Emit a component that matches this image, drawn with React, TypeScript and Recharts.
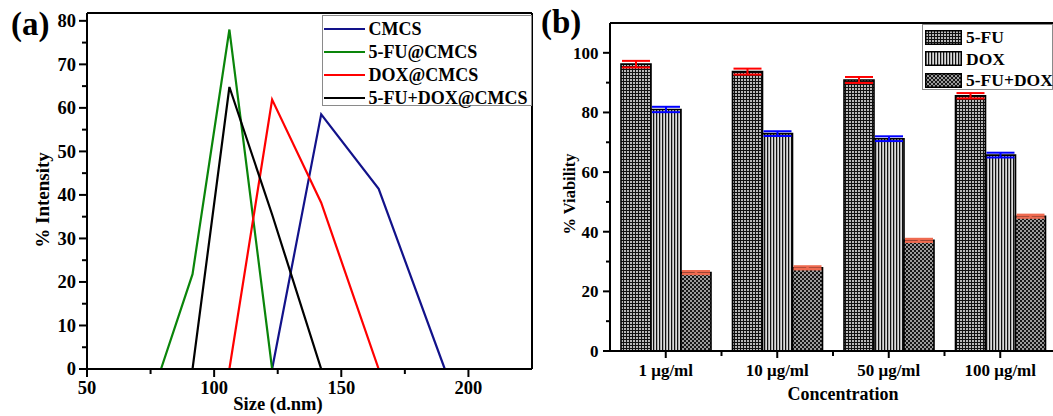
import React from 'react';
import { LineChart, Line, XAxis, YAxis, ReferenceLine, BarChart, Bar, ErrorBar } from 'recharts';

const FONT = "'Liberation Serif', 'Times New Roman', Times, serif";

// ---------- Panel (a): DLS size distribution ----------
const cmcsSize = [106.0, 122.8, 142.1, 164.7, 190.7];
const cmcsInt = [0, 0, 58.5, 41.4, 0];
const fuSize = [79.1, 91.5, 106.0, 122.8, 142.1];
const fuInt = [0, 21.8, 78.0, 0, 0];
const doxSize = [91.5, 106.0, 122.8, 142.1, 164.7];
const doxInt = [0, 0, 61.9, 38.2, 0];
const comboSize = [91.5, 106.0, 122.8, 142.1];
const comboInt = [0, 64.8, 35.5, 0];

const sizeTicks = [50, 75, 100, 125, 150, 175, 200];
const intensityTicks = [0, 5, 10, 15, 20, 25, 30, 35, 40, 45, 50, 55, 60, 65, 70, 75, 80];

const lineNames = ['CMCS', '5-FU@CMCS', 'DOX@CMCS', '5-FU+DOX@CMCS'];
const lineColors = ['#12128a', '#0a850a', '#ff0000', '#000000'];

// ---------- Panel (b): cell viability ----------
const concLabels = ['1 μg/ml', '10 μg/ml', '50 μg/ml', '100 μg/ml'];
const fuViab = [96.2, 93.7, 90.9, 85.6];
const fuErr = [1.1, 1.0, 1.0, 0.9];
const doxViab = [81.0, 72.9, 71.2, 65.7];
const doxErr = [0.9, 0.8, 0.8, 0.8];
const comboViab = [26.3, 27.9, 37.1, 45.2];
const comboErr = [0.45, 0.45, 0.45, 0.45];
const viabTicks = [0, 10, 20, 30, 40, 50, 60, 70, 80, 90, 100];

const barNames = ['5-FU', 'DOX', '5-FU+DOX'];
const barPatterns = ['pFU', 'pDOX', 'pCombo'];

const toXY = (xs: number[], ys: number[]) => xs.map((x, i) => ({ x, y: ys[i] }));
const cmcsData = toXY(cmcsSize, cmcsInt);
const fuData = toXY(fuSize, fuInt);
const doxData = toXY(doxSize, doxInt);
const comboData = toXY(comboSize, comboInt);
const lineSets = [cmcsData, fuData, doxData, comboData];

const barData = concLabels.map((conc, i) => ({
  conc,
  fu: fuViab[i],
  fuErr: fuErr[i],
  dox: doxViab[i],
  doxErr: doxErr[i],
  combo: comboViab[i],
  comboErr: comboErr[i],
}));

// layout constants (chart-local coordinates)
const A_W = 540, A_H = 416;
const A_LEFT = 87, A_TOP = 13, A_RIGHT = 8, A_XH = 47;
const A_AXIS_Y = A_H - A_XH;

const B_LEFTPOS = 530;
const B_W = 540, B_H = 416;
const B_LEFT = 80, B_TOP = 23, B_RIGHT = 14, B_XH = 65;
const B_AXIS_Y = B_H - B_XH;
const B_BAND = (B_W - B_LEFT - B_RIGHT) / concLabels.length;

const txt = { fontFamily: FONT, fontWeight: 700 as const, fill: '#000' };

const LeftYTick = (p: any) => {
  const v = p.payload.value;
  const major = v % 10 === 0;
  const y = p.y;
  return (
    <g>
      <line x1={A_LEFT - (major ? 8 : 5)} x2={A_LEFT} y1={y} y2={y} stroke="#000" strokeWidth={2} />
      {major && (
        <text x={A_LEFT - 11} y={y} dy="0.34em" textAnchor="end" fontSize={18.5} {...txt}>
          {v}
        </text>
      )}
    </g>
  );
};

const LeftXTick = (p: any) => {
  const v = p.payload.value;
  const major = v % 50 === 0;
  const x = p.x;
  return (
    <g>
      <line x1={x} x2={x} y1={A_AXIS_Y} y2={A_AXIS_Y + (major ? 8 : 5)} stroke="#000" strokeWidth={2} />
      {major && (
        <text x={x} y={A_AXIS_Y + 12} dy="0.72em" textAnchor="middle" fontSize={18.5} {...txt}>
          {v}
        </text>
      )}
    </g>
  );
};

const RightYTick = (p: any) => {
  const v = p.payload.value;
  const major = v % 20 === 0;
  const y = p.y;
  return (
    <g>
      <line x1={B_LEFT - (major ? 7 : 4)} x2={B_LEFT} y1={y} y2={y} stroke="#000" strokeWidth={2} />
      {major && (
        <text x={B_LEFT - 11.5} y={y} dy="0.34em" textAnchor="end" fontSize={17} {...txt}>
          {v}
        </text>
      )}
    </g>
  );
};

const RightXTick = (p: any) => {
  const x = p.x;
  const idx = p.index;
  return (
    <g>
      <line x1={x} x2={x} y1={B_AXIS_Y} y2={B_AXIS_Y + 7} stroke="#000" strokeWidth={2} />
      {idx < concLabels.length - 1 && (
        <line x1={x + B_BAND / 2} x2={x + B_BAND / 2} y1={B_AXIS_Y} y2={B_AXIS_Y + 5} stroke="#000" strokeWidth={2} />
      )}
      <text x={x} y={370} dy="0.34em" textAnchor="middle" fontSize={17} {...txt}>
        {p.payload.value}
      </text>
    </g>
  );
};

const Patterns = () => (
  <defs>
    <pattern id="pFU" width="3" height="3" patternUnits="userSpaceOnUse">
      <rect width="3" height="3" fill="#111" />
      <rect x="1" y="1" width="2" height="2" fill="#b8b8b8" />
    </pattern>
    <pattern id="pDOX" width="3" height="3" patternUnits="userSpaceOnUse">
      <rect width="3" height="3" fill="#dcdcdc" />
      <rect x="0" y="0" width="1" height="3" fill="#111" />
      <rect x="1" y="0" width="0.6" height="3" fill="#888" />
    </pattern>
    <pattern id="pCombo" width="4" height="4" patternUnits="userSpaceOnUse">
      <rect width="4" height="4" fill="#151515" />
      <rect x="0" y="0" width="2" height="2" fill="#9a9a9a" />
      <rect x="2" y="2" width="2" height="2" fill="#9a9a9a" />
    </pattern>
  </defs>
);

const LeftLegend = () => (
  <div
    style={{
      position: 'absolute',
      left: 321.5,
      top: 15,
      width: 210,
      height: 91,
      border: '1px solid #8a8a8a',
      background: '#fff',
      boxSizing: 'border-box',
    }}
  >
    {lineNames.map((n, i) => (
      <div key={n} style={{ position: 'absolute', left: 1, top: 13 + i * 23.1 - 10, height: 20, display: 'flex', alignItems: 'center' }}>
        <div style={{ width: 41, height: 2.4, background: lineColors[i] }} />
        <span style={{ marginLeft: 4, fontFamily: FONT, fontWeight: 700, fontSize: 18, lineHeight: '20px', whiteSpace: 'nowrap' }}>{n}</span>
      </div>
    ))}
  </div>
);

const RightLegend = () => (
  <div
    style={{
      position: 'absolute',
      left: 922,
      top: 24,
      width: 131,
      height: 66,
      border: '1px solid #8a8a8a',
      background: '#fff',
      boxSizing: 'border-box',
    }}
  >
    {barNames.map((n, i) => (
      <div key={n} style={{ position: 'absolute', left: 2, top: 4 + i * 21.7, height: 16, display: 'flex', alignItems: 'center' }}>
        <svg width={37} height={15} style={{ display: 'block' }}>
          <rect x={0.75} y={0.75} width={35.5} height={13.5} fill={`url(#${barPatterns[i]})`} stroke="#000" strokeWidth={1.5} />
        </svg>
        <span style={{ marginLeft: 4, fontFamily: FONT, fontWeight: 700, fontSize: 17.5, lineHeight: '16px', whiteSpace: 'nowrap' }}>{n}</span>
      </div>
    ))}
  </div>
);

export default function App() {
  return (
    <div style={{ position: 'fixed', left: 0, top: 0, width: 1053, height: 416, overflow: 'hidden', background: '#fff' }}>
      <div style={{ position: 'absolute', left: 0, top: 0 }}>
        <LineChart width={A_W} height={A_H} margin={{ top: A_TOP, right: A_RIGHT, bottom: 0, left: 0 }}>
          <XAxis
            dataKey="x"
            type="number"
            domain={[50, 225]}
            ticks={sizeTicks}
            allowDataOverflow
            height={A_XH}
            axisLine={{ stroke: '#000', strokeWidth: 2 }}
            tickLine={false}
            tick={(p: any) => <LeftXTick {...p} />}
            interval={0}
            label={() => (
              <text x={278} y={403} dy="0.36em" textAnchor="middle" fontSize={18.5} {...txt}>
                Size (d.nm)
              </text>
            )}
          />
          <YAxis
            type="number"
            domain={[0, 81.8]}
            ticks={intensityTicks}
            allowDataOverflow
            width={A_LEFT}
            axisLine={{ stroke: '#000', strokeWidth: 2 }}
            tickLine={false}
            tick={(p: any) => <LeftYTick {...p} />}
            interval={0}
            label={() => (
              <text x={43} y={200} textAnchor="middle" dy="0.34em" transform="rotate(-90 43 200)" fontSize={19} {...txt}>
                % Intensity
              </text>
            )}
          />
          <ReferenceLine y={81.8} stroke="#000" strokeWidth={2} ifOverflow="visible" />
          <ReferenceLine x={225} stroke="#000" strokeWidth={2} ifOverflow="visible" />
          {lineSets.map((d, i) => (
            <Line
              key={lineNames[i]}
              data={d}
              dataKey="y"
              name={lineNames[i]}
              type="linear"
              stroke={lineColors[i]}
              strokeWidth={2.2}
              dot={false}
              activeDot={false}
              isAnimationActive={false}
            />
          ))}
        </LineChart>
      </div>
      <LeftLegend />
      <div style={{ position: 'absolute', left: 11, top: 5, fontFamily: FONT, fontWeight: 700, fontSize: 33, lineHeight: '38px' }}>(a)</div>

      <div style={{ position: 'absolute', left: B_LEFTPOS, top: 0 }}>
        <BarChart
          width={B_W}
          height={B_H}
          data={barData}
          margin={{ top: B_TOP, right: B_RIGHT, bottom: 0, left: 0 }}
          barGap={0}
          barSize={30}
        >
          <Patterns />
          <XAxis
            dataKey="conc"
            type="category"
            height={B_XH}
            axisLine={{ stroke: '#000', strokeWidth: 2 }}
            tickLine={false}
            tick={(p: any) => <RightXTick {...p} />}
            interval={0}
            label={() => (
              <text x={313} y={394} dy="0.36em" textAnchor="middle" fontSize={18} {...txt}>
                Concentration
              </text>
            )}
          />
          <YAxis
            type="number"
            domain={[0, 110]}
            ticks={viabTicks}
            allowDataOverflow
            width={B_LEFT}
            axisLine={{ stroke: '#000', strokeWidth: 2 }}
            tickLine={false}
            tick={(p: any) => <RightYTick {...p} />}
            interval={0}
            label={() => (
              <text x={39} y={194} textAnchor="middle" dy="0.34em" transform="rotate(-90 39 194)" fontSize={16.5} {...txt}>
                % Viability
              </text>
            )}
          />
          <ReferenceLine y={110} stroke="#000" strokeWidth={2} ifOverflow="visible" />
          <Bar dataKey="fu" name="5-FU" fill="url(#pFU)" stroke="#000" strokeWidth={1.6} isAnimationActive={false}>
            <ErrorBar dataKey="fuErr" width={14} stroke="#ff0000" strokeWidth={2} />
          </Bar>
          <Bar dataKey="dox" name="DOX" fill="url(#pDOX)" stroke="#000" strokeWidth={1.6} isAnimationActive={false}>
            <ErrorBar dataKey="doxErr" width={14} stroke="#0000ff" strokeWidth={2} />
          </Bar>
          <Bar dataKey="combo" name="5-FU+DOX" fill="url(#pCombo)" stroke="#000" strokeWidth={1.6} isAnimationActive={false}>
            <ErrorBar dataKey="comboErr" width={14} stroke="#ee6a50" strokeWidth={2.5} />
          </Bar>
        </BarChart>
      </div>
      <RightLegend />
      <div style={{ position: 'absolute', left: 541, top: 3, fontFamily: FONT, fontWeight: 700, fontSize: 33, lineHeight: '38px' }}>(b)</div>
    </div>
  );
}
